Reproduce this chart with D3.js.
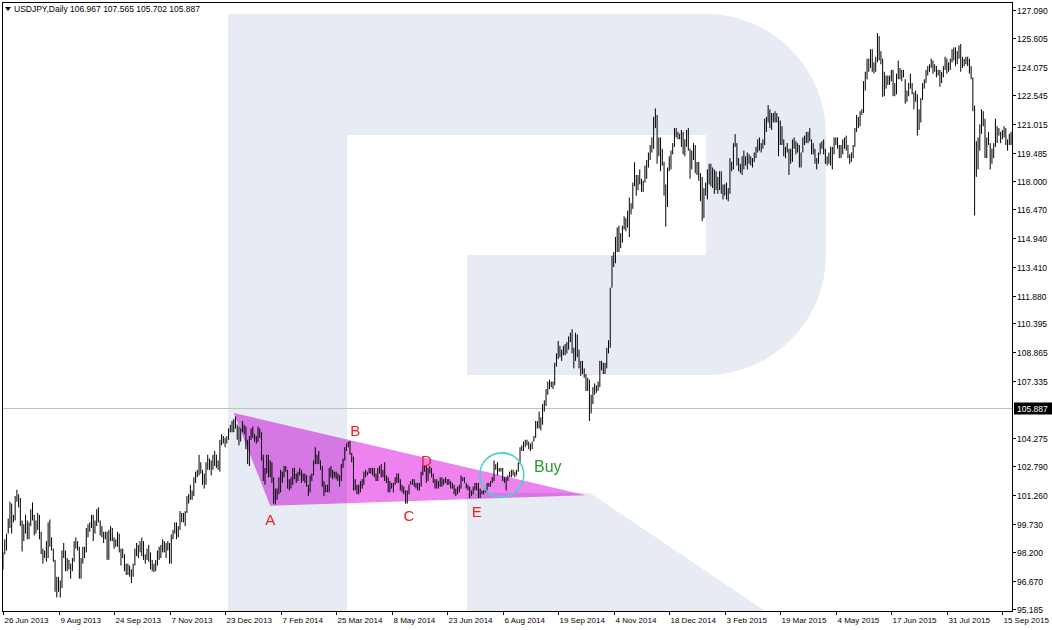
<!DOCTYPE html>
<html><head><meta charset="utf-8">
<script src="https://cdn.jsdelivr.net/npm/d3@7"></script>
<style>
html,body{margin:0;padding:0;background:#fff;}
svg{display:block;font-family:"Liberation Sans",Arial,sans-serif;}
</style></head><body>
<svg id="chart" width="1052" height="630"></svg>
<script>
// ---------- data ----------
const symbol = "USDJPY,Daily";
const headerOHLC = [106.967, 107.565, 105.702, 105.887];
const currentPrice = 105.887;

const dateLabels = ["26 Jun 2013","9 Aug 2013","24 Sep 2013","7 Nov 2013","23 Dec 2013","7 Feb 2014","25 Mar 2014","8 May 2014","23 Jun 2014","6 Aug 2014","19 Sep 2014","4 Nov 2014","18 Dec 2014","3 Feb 2015","19 Mar 2015","4 May 2015","17 Jun 2015","31 Jul 2015","15 Sep 2015"];
const barsPerLabel = 32;

const priceTicks = [127.090,125.605,124.075,122.545,121.015,119.485,118.000,116.470,114.940,113.410,111.880,110.395,108.865,107.335,104.275,102.790,101.260,99.730,98.200,96.670,95.185];

// daily highs (26 Jun 2013 .. 22 Sep 2015)
const highs = [
98.2,98.9,99.2,100.0,100.9,100.8,100.2,101.2,101.54,101.3,101.1,99.9,99.7,100.2,99.9,99.8,100.5,100.86,100.2,99.9,100.3,100.2,99.3,98.4,98.3,98.8,99.8,99.95,99.0,98.4,97.8,96.9,96.9,
96.7,98.3,98.7,98.3,97.9,97.8,97.6,97.9,98.8,99.0,98.8,98.5,97.9,98.5,98.5,99.5,99.7,99.8,100.2,100.2,99.9,100.5,100.6,99.9,99.6,99.3,99.3,99.3,99.4,99.6,99.5,99.0,
98.9,99.3,99.2,98.4,98.4,98.1,97.6,97.6,97.5,97.3,97.6,98.4,98.7,98.6,98.8,99.0,98.8,98.1,98.4,98.6,98.2,97.8,97.6,97.8,98.3,98.5,98.6,98.9,98.8,98.7,98.8,98.7,
99.15,99.4,99.8,99.8,99.6,100.4,100.3,100.3,100.4,101.2,101.3,101.8,101.5,102.2,102.5,102.6,103.4,103.0,102.6,102.4,103.0,103.4,103.2,103.1,103.4,103.6,103.4,103.1,104.2,104.5,104.4,104.3,
104.4,104.8,105.0,105.2,105.3,105.44,105.0,104.9,104.8,105.2,105.0,104.9,104.2,104.4,104.8,104.9,104.5,104.4,104.9,104.8,104.6,103.4,102.7,103.4,103.4,103.1,103.0,102.2,101.6,101.6,102.2,102.6,
102.5,102.8,102.8,102.6,102.1,102.2,102.7,102.7,102.4,102.5,102.7,102.6,102.4,102.4,102.3,101.8,102.3,102.4,103.1,103.8,103.4,103.6,103.1,102.8,102.0,101.8,101.8,102.7,102.8,102.6,102.5,102.5,
102.4,102.3,102.9,103.2,103.8,104.0,104.1,104.13,103.5,103.3,102.1,101.8,101.8,102.0,102.1,102.5,102.6,102.5,102.7,102.7,102.7,102.7,102.4,102.7,102.8,102.9,102.6,103.0,102.3,102.2,102.0,101.9,
101.9,102.2,102.4,102.4,102.1,101.8,101.7,101.5,101.5,101.8,102.0,102.1,102.1,101.9,101.9,101.9,102.5,102.8,102.8,102.8,102.7,102.8,102.7,102.4,102.1,102.1,102.0,102.2,102.2,102.1,102.2,102.1,
102.1,102.0,101.9,101.8,101.6,101.7,101.8,102.3,102.2,102.2,101.9,101.8,101.7,101.5,101.7,101.9,101.9,101.9,101.6,101.5,101.5,101.6,101.9,101.9,102.0,102.2,103.1,102.9,103.0,102.7,102.7,102.7,
102.2,102.2,102.3,102.5,102.6,102.6,102.5,102.6,103.0,103.8,103.9,104.1,104.2,104.2,104.1,104.0,104.1,104.4,105.2,105.2,105.7,105.4,106.1,106.3,106.9,107.3,107.4,107.3,107.3,108.3,108.8,109.46,
109.2,109.0,109.2,109.3,109.4,109.7,109.9,110.09,109.1,109.9,109.8,109.0,108.4,108.4,108.0,107.7,107.5,107.4,106.6,107.0,107.2,107.1,107.3,108.4,108.4,108.3,108.3,109.1,109.5,112.3,114.0,114.2,
115.0,115.5,115.6,115.2,115.6,116.1,116.0,116.4,117.1,116.8,117.9,118.98,118.3,118.3,118.6,118.1,118.0,118.8,119.1,119.5,119.9,120.3,121.4,121.85,121.5,120.3,120.3,119.7,119.0,117.8,118.7,119.3,
119.6,120.0,120.8,120.8,120.6,120.5,120.7,120.6,120.2,120.7,120.8,119.7,119.6,120.0,119.9,119.0,119.0,118.4,118.2,117.6,117.9,118.6,118.9,118.9,118.7,118.6,118.5,118.2,118.5,118.5,117.8,117.8,
117.9,117.6,119.2,119.0,120.0,120.48,120.0,119.2,118.9,119.3,119.6,119.3,119.5,119.4,119.3,119.2,119.5,119.8,120.2,120.3,120.0,120.2,121.3,121.4,122.03,121.8,121.6,121.6,121.7,121.6,121.4,121.2,
120.9,120.2,119.8,120.0,119.7,119.7,120.2,120.3,120.1,120.0,119.9,119.5,120.3,120.4,120.6,120.6,120.8,120.2,120.0,119.7,119.2,119.5,120.0,120.1,120.2,119.7,119.3,119.5,119.8,119.8,120.3,120.3,
120.3,119.9,119.9,120.2,120.3,120.4,119.9,119.4,119.5,119.9,120.8,121.5,121.4,121.7,121.8,123.3,123.8,124.5,124.5,125.0,125.0,124.3,124.6,125.86,125.7,124.9,124.5,123.8,123.6,123.6,123.6,123.9,
123.9,123.2,123.7,124.4,124.0,123.9,123.9,123.4,122.8,123.2,123.7,123.2,122.7,122.8,122.6,121.8,122.4,123.2,123.4,123.9,124.1,124.2,124.5,124.4,124.2,124.1,123.9,123.9,123.8,124.1,124.6,124.5,
124.3,124.5,125.0,125.1,125.1,124.9,125.2,125.28,124.6,124.5,124.6,124.6,124.5,124.1,123.5,122.0,120.1,120.3,121.0,121.8,121.7,121.3,120.3,120.6,120.0,119.7,120.0,121.3,120.9,120.8,120.6,120.7,
120.9,120.8,120.2,120.5,120.6
];
// daily lows (same days)
const lows = [
97.3,98.1,98.3,99.2,99.5,99.2,99.8,99.9,100.9,100.6,99.6,98.25,98.8,99.2,98.9,98.9,99.6,99.9,99.1,99.2,99.4,98.9,98.1,97.6,97.9,97.7,97.9,98.5,98.3,97.7,96.1,95.8,96.1,
95.8,96.3,97.9,97.2,97.2,97.3,96.8,97.2,97.7,98.4,98.3,96.8,96.8,97.6,97.9,98.2,99.0,99.3,99.5,98.8,99.2,99.6,99.8,99.1,99.0,98.7,98.9,97.8,97.8,98.8,98.8,98.4,
98.5,98.5,98.2,97.5,97.9,97.2,97.0,97.0,96.9,96.56,96.9,97.5,98.0,97.9,98.2,98.0,97.8,97.6,97.8,97.7,97.3,97.2,97.15,97.2,97.5,97.8,97.9,98.2,98.2,97.9,98.3,97.6,
97.6,98.9,99.2,98.9,99.0,99.4,99.8,99.8,99.6,100.3,100.8,101.0,101.0,101.2,101.9,102.2,102.3,102.4,101.8,101.6,101.8,102.6,102.6,102.3,102.6,102.8,102.7,102.6,102.5,103.9,104.0,103.8,
104.0,104.2,104.6,104.6,104.6,104.8,104.2,103.9,104.1,104.6,104.5,103.7,102.9,102.8,104.2,104.3,104.1,104.0,104.1,104.3,103.1,102.0,101.8,102.4,102.2,102.2,101.9,100.8,100.75,101.0,101.3,101.4,
101.9,102.2,102.5,101.6,101.5,101.6,101.8,102.1,101.9,102.0,102.3,101.9,102.0,101.9,101.7,101.2,101.4,102.0,102.3,102.9,102.9,102.9,102.6,101.7,101.2,101.4,101.4,101.4,102.2,102.1,102.2,102.1,
102.0,101.7,102.0,102.7,103.1,103.6,103.8,103.4,103.0,101.5,101.5,101.3,101.3,101.4,101.6,101.8,102.2,102.3,102.4,102.4,102.3,102.2,102.0,102.0,102.4,102.2,102.2,102.0,101.9,101.4,101.4,101.6,
101.4,101.8,101.9,101.9,101.5,101.4,101.3,100.8,100.8,101.3,101.8,101.8,101.7,101.6,101.5,101.5,101.7,102.3,102.5,101.9,102.0,102.4,102.2,101.9,101.6,101.6,101.6,101.7,101.7,101.8,101.9,101.8,
101.8,101.6,101.6,101.3,101.2,101.3,101.4,101.6,102.0,101.9,101.6,101.5,101.1,101.2,101.3,101.5,101.5,101.1,101.1,101.3,101.3,101.4,101.4,101.7,101.7,101.9,102.0,102.6,102.3,102.5,102.5,102.0,
101.9,101.5,102.0,102.2,102.2,102.3,102.2,102.3,102.5,102.9,103.6,103.6,103.8,103.9,103.7,103.6,103.7,104.1,104.3,104.8,104.8,104.7,105.0,105.7,106.0,106.6,106.9,107.0,106.9,107.1,108.1,108.5,
108.6,108.4,108.7,108.7,108.8,109.0,109.4,108.8,108.0,108.4,108.6,108.0,107.6,107.7,107.5,106.8,106.8,105.2,105.6,106.1,106.6,106.7,106.8,107.0,107.9,107.7,107.7,108.0,108.8,109.1,112.3,113.4,
113.6,114.2,114.2,114.4,114.7,115.4,115.3,115.5,115.0,116.2,116.5,117.7,117.2,117.5,117.8,117.4,117.4,117.9,118.1,118.7,119.1,119.5,119.7,120.8,118.9,119.3,118.5,118.8,117.2,115.55,116.6,118.5,
118.6,119.4,119.8,120.3,120.2,120.2,119.8,119.4,119.3,119.8,119.6,118.1,118.6,119.1,118.4,118.3,118.0,116.9,115.85,116.0,117.2,117.0,117.8,117.7,117.6,117.3,117.5,117.3,117.5,117.3,117.0,117.2,
117.0,116.9,117.3,118.5,118.6,119.8,118.8,118.5,118.4,118.3,118.6,118.8,118.6,118.9,118.8,118.7,119.0,119.2,119.5,119.6,119.5,119.7,119.9,120.6,121.1,120.8,120.7,121.1,121.1,121.1,119.3,119.9,
119.9,119.3,119.2,119.5,118.3,118.9,119.0,119.7,119.4,119.5,118.7,118.7,119.5,119.9,120.0,120.0,120.1,119.4,119.4,118.9,118.6,118.9,119.4,119.7,119.4,118.9,118.8,118.9,118.8,118.6,119.4,119.9,
119.7,119.2,119.2,119.4,119.7,119.6,119.2,118.9,119.0,119.2,119.8,120.6,120.8,120.9,121.5,121.6,122.8,123.4,123.8,124.0,123.8,123.7,123.8,124.3,124.4,124.2,122.46,122.5,122.9,123.1,123.1,123.3,
122.5,122.5,122.6,123.4,123.4,123.3,123.5,122.1,122.2,122.5,122.9,122.6,121.8,122.2,120.4,120.7,121.1,122.3,122.9,123.2,123.6,123.8,124.0,123.7,123.8,123.5,123.6,123.0,123.2,123.5,123.9,123.7,
123.8,123.9,124.3,124.4,124.1,124.2,124.5,123.8,124.0,124.1,124.2,124.1,123.7,123.4,121.7,116.15,118.2,118.6,119.6,120.5,120.9,119.2,119.2,119.9,118.6,118.9,119.2,119.8,120.0,120.4,120.0,120.2,
120.3,119.9,119.6,119.9,119.9
];

// triangle pattern anchors: [bar index, price]
const triangleAnchors = [[133, 105.63], [154, 100.68], [336, 101.25]];
const pointLabels = [
  {text:"A", bar:154, price:99.93},
  {text:"B", bar:203, price:104.68},
  {text:"C", bar:234, price:100.15},
  {text:"D", bar:244, price:103.11},
  {text:"E", bar:273, price:100.36}
];
const buyLabel = {text:"Buy", bar:314, price:102.76};
const breakoutCircle = {bar:287.5, price:102.33};

// ---------- layout / style ----------
const frame = {left:2, top:2, right:1012, bottom:611};
const barStep = 1.735;
const svg = d3.select("#chart");

const x = d3.scaleLinear().domain([0, 1]).range([3, 3 + barStep]);
const y = d3.scaleLinear().domain([95.185, 127.090]).range([609, 10]);

const clipId = "plotclip";
svg.append("defs").append("clipPath").attr("id", clipId)
  .append("rect").attr("x", frame.left).attr("y", frame.top)
  .attr("width", frame.right - frame.left).attr("height", frame.bottom - frame.top);

const plot = svg.append("g").attr("clip-path", `url(#${clipId})`);

// watermark "R"
const wm = "#e6ebf4";
plot.append("path").attr("fill", wm)
  .attr("d", "M228,611 V14 H706 A120,121 0 0 1 826,135 V255 A120,120 0 0 1 706,375 H467 V255 H706 V135 H347 V611 Z");
plot.append("path").attr("fill", wm)
  .attr("d", "M467,493 H590 L765,611 H467 Z");

// triangle
plot.append("polygon")
  .attr("points", triangleAnchors.map(d => [x(d[0]), y(d[1])].join(",")).join(" "))
  .attr("fill", "#ee82ee")
  .style("mix-blend-mode", "multiply");

// current price line
plot.append("line")
  .attr("x1", frame.left).attr("x2", frame.right)
  .attr("y1", Math.round(y(currentPrice)) + 0.5).attr("y2", Math.round(y(currentPrice)) + 0.5)
  .attr("stroke", "#c0c0c0").attr("stroke-width", 1);

// bars
plot.append("g").selectAll("line").data(highs).join("line")
  .attr("x1", (d, i) => x(i)).attr("x2", (d, i) => x(i))
  .attr("y1", d => y(d)).attr("y2", (d, i) => y(lows[i]))
  .attr("stroke", "#000").attr("stroke-width", 1);

// circle
plot.append("circle")
  .attr("cx", x(breakoutCircle.bar)).attr("cy", y(breakoutCircle.price)).attr("r", 22)
  .attr("fill", "none").attr("stroke", "#45d2cb").attr("stroke-width", 1.6);

// labels
plot.append("g").selectAll("text").data(pointLabels).join("text")
  .attr("x", d => x(d.bar)).attr("y", d => y(d.price))
  .attr("text-anchor", "middle").attr("dominant-baseline", "central")
  .attr("font-size", 15).attr("fill", "#f01e1e").text(d => d.text);
plot.append("text")
  .attr("x", x(buyLabel.bar)).attr("y", y(buyLabel.price))
  .attr("text-anchor", "middle").attr("dominant-baseline", "central")
  .attr("font-size", 16).attr("fill", "#2a9a2a").text(buyLabel.text);

// frame
svg.append("rect")
  .attr("x", frame.left + 0.5).attr("y", frame.top + 0.5)
  .attr("width", frame.right - frame.left).attr("height", frame.bottom - frame.top)
  .attr("fill", "none").attr("stroke", "#000");

// price axis
const pa = svg.append("g");
priceTicks.forEach(v => {
  const yy = Math.round(y(v)) + 0.5;
  pa.append("line").attr("x1", frame.right + 0.5).attr("x2", frame.right + 4).attr("y1", yy).attr("y2", yy).attr("stroke", "#000");
  pa.append("text").attr("x", frame.right + 5).attr("y", yy).attr("dominant-baseline", "central")
    .attr("font-size", 8.5).attr("fill", "#000").text(v.toFixed(3));
});
// current price tag
const cy = Math.round(y(currentPrice)) + 0.5;
pa.append("rect").attr("x", frame.right + 2).attr("y", cy - 6).attr("width", 38).attr("height", 12).attr("fill", "#000");
pa.append("text").attr("x", frame.right + 5).attr("y", cy).attr("dominant-baseline", "central")
  .attr("font-size", 8.5).attr("fill", "#fff").text(currentPrice.toFixed(3));

// time axis
const ta = svg.append("g");
dateLabels.forEach((lab, k) => {
  const xx = Math.round(x(k * barsPerLabel)) + 0.5;
  ta.append("line").attr("x1", xx).attr("x2", xx).attr("y1", frame.bottom + 0.5).attr("y2", frame.bottom + 4).attr("stroke", "#000");
  ta.append("text").attr("x", xx + 1).attr("y", frame.bottom + 9.5).attr("dominant-baseline", "central")
    .attr("font-size", 8).attr("fill", "#000").text(lab);
});

// header
svg.append("path").attr("d", "M5,7 L11,7 L8,11 Z").attr("fill", "#000");
svg.append("text").attr("x", 14).attr("y", 9).attr("dominant-baseline", "central")
  .attr("font-size", 8.5).attr("fill", "#000")
  .text(symbol + "  " + headerOHLC.map(v => v.toFixed(3)).join(" "));
</script>
</body></html>
